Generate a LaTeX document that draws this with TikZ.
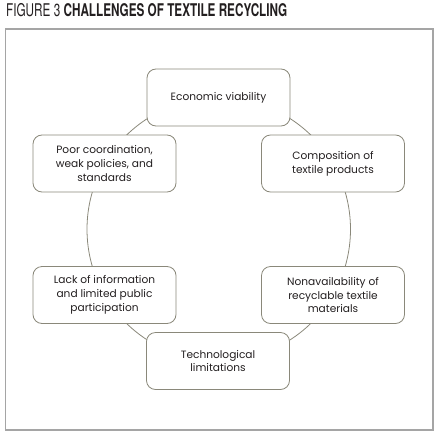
\documentclass[tikz,border=0pt]{standalone}
\usepackage{fontspec}
\setmainfont{Poppins}
\newfontfamily\titlefont[FakeStretch=0.67]{TeX Gyre Heros}
\usetikzlibrary{backgrounds}

\definecolor{boxLine}{RGB}{138,136,122}
\definecolor{frameLine}{RGB}{165,165,165}
\definecolor{inkGray}{RGB}{35,31,32}

\tikzset{
	challengeBox/.style={rectangle, rounded corners=9pt, draw=boxLine, line width=0.8pt, fill=white, minimum width=143pt, minimum height=57pt, align=center, font=\fontsize{10.6}{13.8}\selectfont, text=inkGray},
	ringEdge/.style={draw=boxLine, line width=0.8pt, bend left=30, looseness=0.91}
}

\begin{document}
\begin{tikzpicture}[x=1pt,y=-1pt]
		\useasboundingbox (0,0) rectangle (435,433);

		\node[anchor=base west, inner sep=0pt, font=\titlefont\fontsize{17.5}{17.5}\selectfont, text=inkGray](figTitle) at (6,17){FIGURE 3 \textbf{CHALLENGES OF TEXTILE RECYCLING}};
		\node[rectangle, draw=frameLine, line width=1.2pt, minimum width=427.5pt, minimum height=401pt](frameBox) at (219.2,229.5){};

		\node[challengeBox](econBox) at (218.5,97.5){Economic viability};
		\node[challengeBox](compBox) at (333,163.5){Composition of\\textile products};
		\node[challengeBox](nonBox) at (333,295){Nonavailability of\\recyclable textile\\materials};
		\node[challengeBox](techBox) at (218,361){Technological\\limitations};
		\node[challengeBox](lackBox) at (104.5,295){Lack of information\\and limited public\\participation};
		\node[challengeBox](poorBox) at (104.5,163.5){Poor coordination,\\weak policies, and\\standards};

		% draw ring edges
		\begin{scope}[on background layer]
		\draw[ringEdge] (econBox.center) to (compBox.center);
		\draw[ringEdge] (compBox.center) to (nonBox.center);
		\draw[ringEdge] (nonBox.center) to (techBox.center);
		\draw[ringEdge] (techBox.center) to (lackBox.center);
		\draw[ringEdge] (lackBox.center) to (poorBox.center);
		\draw[ringEdge] (poorBox.center) to (econBox.center);
		\end{scope}

\end{tikzpicture}
\end{document}
